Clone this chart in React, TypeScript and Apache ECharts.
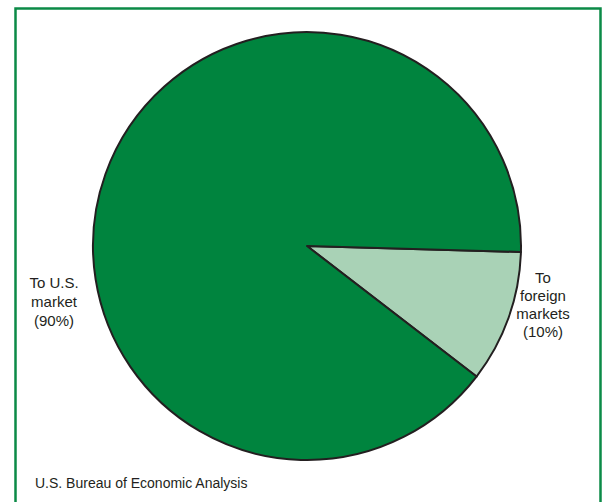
import React, { useEffect, useRef } from "react";
import * as echarts from "echarts";

const categories = ["To foreign markets", "To U.S. market"];
const shares = [10, 90];
const labelLines = [
  ["To", "foreign", "markets", "(10%)"],
  ["To U.S.", "market", "(90%)"],
];
const sourceNote = "U.S. Bureau of Economic Analysis";
const sliceColors = ["#a9d2b6", "#00843e"];

export default function App() {
  const ref = useRef<HTMLDivElement>(null);
  useEffect(() => {
    if (!ref.current) return;
    const chart = echarts.init(ref.current, null, { renderer: "svg" });
    const font = "'Liberation Sans', Arial, sans-serif";
    chart.setOption({
      animation: false,
      backgroundColor: "#ffffff",
      series: [
        {
          type: "pie",
          center: [307, 246],
          radius: [0, 214],
          startAngle: -1.6,
          clockwise: true,
          silent: true,
          label: { show: false },
          labelLine: { show: false },
          itemStyle: { borderColor: "#231f20", borderWidth: 2 },
          data: categories.map((c, i) => ({
            name: c,
            value: shares[i],
            itemStyle: { color: sliceColors[i] },
          })),
        },
      ],
      graphic: [
        {
          type: "rect",
          shape: { x: 15.5, y: 8.5, width: 585, height: 520 },
          style: { fill: "none", stroke: "#0b8a47", lineWidth: 2.5 },
          silent: true,
        },
        {
          type: "text",
          x: 543,
          y: 268,
          style: {
            text: labelLines[0].join("\n"),
            fill: "#231f20",
            font: `15px ${font}`,
            lineHeight: 18,
            align: "center",
            verticalAlign: "top",
          },
        },
        {
          type: "text",
          x: 54,
          y: 273,
          style: {
            text: labelLines[1].join("\n"),
            fill: "#231f20",
            font: `15px ${font}`,
            lineHeight: 19,
            align: "center",
            verticalAlign: "top",
          },
        },
        {
          type: "text",
          x: 35,
          y: 476,
          style: {
            text: sourceNote,
            fill: "#231f20",
            font: `14px ${font}`,
            verticalAlign: "top",
          },
        },
      ],
    });
    return () => chart.dispose();
  }, []);
  return (
    <div
      ref={ref}
      style={{ position: "fixed", left: 0, top: 0, width: 605, height: 502 }}
    />
  );
}
